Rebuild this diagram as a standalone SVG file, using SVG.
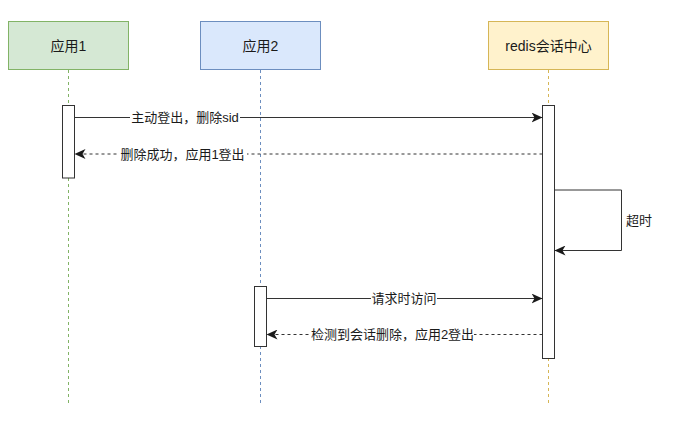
<svg xmlns="http://www.w3.org/2000/svg" width="677" height="427" viewBox="0 0 677 427">
  <defs>
    <style>
      text { font-family: "Liberation Sans", "Noto Sans CJK SC", sans-serif; fill: #1a1a1a; }
      .title { font-size: 14px; text-anchor: middle; dominant-baseline: central; }
      .lbl { font-size: 13px; text-anchor: middle; dominant-baseline: central; }
      .lbl-l { font-size: 13px; text-anchor: start; dominant-baseline: central; }
      .life { fill: none; stroke-width: 1; stroke-dasharray: 3 3; }
      .act { fill: #ffffff; stroke: #333333; stroke-width: 1; }
      .msg { fill: none; stroke: #333333; stroke-width: 1; }
      .ret { fill: none; stroke: #333333; stroke-width: 1; stroke-dasharray: 3 3; }
      .bg { fill: #ffffff; }
    </style>
    <marker id="arrow" markerUnits="userSpaceOnUse" markerWidth="12" markerHeight="10" viewBox="0 0 12 10" refX="11" refY="5" orient="auto">
      <path d="M0,0 L11,5 L0,10 L3,5 z" fill="#1a1a1a"/>
    </marker>
  </defs>
  <rect width="677" height="427" fill="#ffffff"/>

  <g id="app1">
    <line class="life" x1="68.5" y1="70" x2="68.5" y2="406" stroke="#82b366"/>
    <rect x="8.5" y="21.5" width="120" height="48" fill="#d5e8d4" stroke="#82b366"/>
    <text class="title" x="68.5" y="45.5">应用1</text>
    <rect class="act" x="62.5" y="105.5" width="12" height="72.5"/>
  </g>

  <g id="app2">
    <line class="life" x1="260.5" y1="70" x2="260.5" y2="406" stroke="#6c8ebf"/>
    <rect x="200.5" y="21.5" width="120" height="48" fill="#dae8fc" stroke="#6c8ebf"/>
    <text class="title" x="260.5" y="45.5">应用2</text>
    <rect class="act" x="254.5" y="286.5" width="12" height="60"/>
  </g>

  <g id="redis">
    <line class="life" x1="548.5" y1="70" x2="548.5" y2="406" stroke="#d6b656"/>
    <rect x="488.5" y="21.5" width="120" height="48" fill="#fff2cc" stroke="#d6b656"/>
    <text class="title" x="548.5" y="45.5">redis会话中心</text>
    <rect class="act" x="542.5" y="105.5" width="12" height="253"/>
  </g>

  <g id="connectors">
    <g id="e1">
      <line class="msg" x1="74.5" y1="117.5" x2="542.5" y2="117.5" marker-end="url(#arrow)"/>
      <rect class="bg" x="130" y="110" width="110" height="15"/>
      <text class="lbl" x="185" y="117.5">主动登出，删除sid</text>
    </g>
    <g id="e2">
      <line class="ret" x1="542.5" y1="154" x2="74.5" y2="154" marker-end="url(#arrow)"/>
      <rect class="bg" x="118" y="146.5" width="129" height="15"/>
      <text class="lbl" x="182.5" y="154">删除成功，应用1登出</text>
    </g>
    <g id="e3">
      <polyline class="msg" points="554.5,190 621.5,190 621.5,250.5 554.5,250.5" marker-end="url(#arrow)"/>
      <text class="lbl-l" x="626" y="220.5">超时</text>
    </g>
    <g id="e4">
      <line class="msg" x1="266.5" y1="298.5" x2="542.5" y2="298.5" marker-end="url(#arrow)"/>
      <rect class="bg" x="371" y="291" width="66" height="15"/>
      <text class="lbl" x="404" y="298.5">请求时访问</text>
    </g>
    <g id="e5">
      <line class="ret" x1="542.5" y1="334.5" x2="266.5" y2="334.5" marker-end="url(#arrow)"/>
      <rect class="bg" x="311" y="327" width="163" height="15"/>
      <text class="lbl" x="392.5" y="334.5">检测到会话删除，应用2登出</text>
    </g>
  </g>
</svg>
